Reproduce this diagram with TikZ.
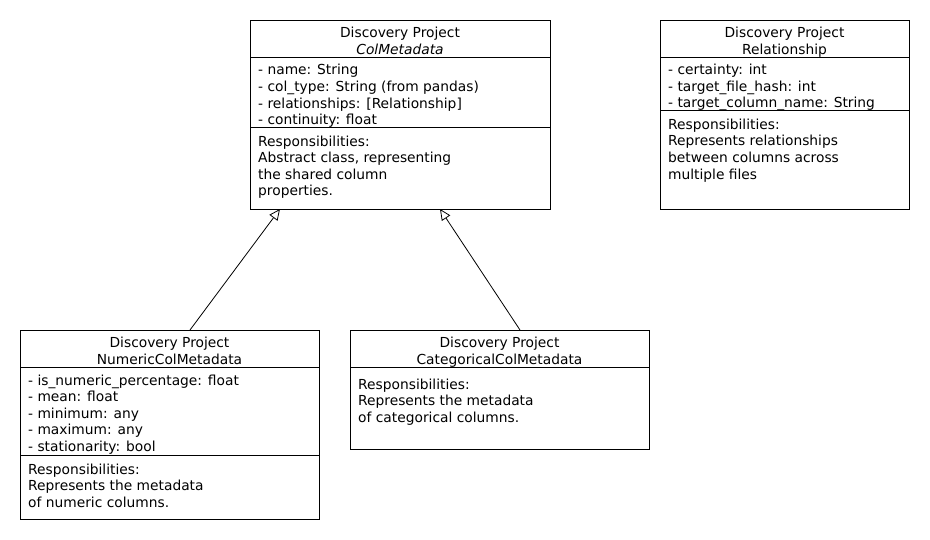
\documentclass[tikz,border=0pt]{standalone}
\usepackage{fontspec}
\setmainfont{DejaVu Sans}
\usetikzlibrary{arrows.meta}
\tikzset{
  box/.style={draw=black, line width=1pt, fill=white, rectangle, inner sep=0pt, anchor=north west},
  sep/.style={draw=black, line width=1pt},
  hd/.style={anchor=base, inner sep=0pt, font=\fontsize{13.8}{16}\selectfont},
  tx/.style={anchor=base west, inner sep=0pt, font=\fontsize{13.8}{16}\selectfont},
  inherit/.style={draw=black, line width=0.8pt, -{Triangle[open, length=11pt, width=10pt, fill=white]}},
}
\begin{document}
\begin{tikzpicture}[x=1pt,y=-1pt]
\useasboundingbox (0,0) rectangle (930,540);
% ColMetadata
\node[box, minimum width=300pt, minimum height=189pt] (col) at (250,20) {};
\draw[sep] (250,57.5) -- (550,57.5);
\draw[sep] (250,127.8) -- (550,127.8);
\node[hd] (colh1) at (400,37.9) {Discovery Project};
\node[hd] (colh2) at (400,54.2) {\itshape ColMetadata};
\node[tx] (cola1) at (258,75) {- name: String};
\node[tx] (cola2) at (258,91.6) {- col\_type: String (from pandas)};
\node[tx] (cola3) at (258,108.2) {- relationships: [Relationship]};
\node[tx] (cola4) at (258,124.6) {- continuity: float};
\node[tx] (colr1) at (258,146.2) {Responsibilities:};
\node[tx] (colr2) at (258,162.8) {Abstract class, representing};
\node[tx] (colr3) at (258,179.4) {the shared column};
\node[tx] (colr4) at (258,196) {properties.};
% Relationship
\node[box, minimum width=249pt, minimum height=189pt] (rel) at (660,20) {};
\draw[sep] (660,57.5) -- (909,57.5);
\draw[sep] (660,110.8) -- (909,110.8);
\node[hd] (relh1) at (784.5,37.9) {Discovery Project};
\node[hd] (relh2) at (784.5,54.2) {Relationship};
\node[tx] (rela1) at (668,75) {- certainty: int};
\node[tx] (rela2) at (668,91.6) {- target\_file\_hash: int};
\node[tx] (rela3) at (668,107.9) {- target\_column\_name: String};
\node[tx] (relr1) at (668,129.3) {Responsibilities:};
\node[tx] (relr2) at (668,145.9) {Represents relationships};
\node[tx] (relr3) at (668,162.5) {between columns across};
\node[tx] (relr4) at (668,179.1) {multiple files};
% NumericColMetadata
\node[box, minimum width=299pt, minimum height=189pt] (num) at (20,330) {};
\draw[sep] (20,367.6) -- (319,367.6);
\draw[sep] (20,455.8) -- (319,455.8);
\node[hd] (numh1) at (169.5,348) {Discovery Project};
\node[hd] (numh2) at (169.5,364.3) {NumericColMetadata};
\node[tx] (numa1) at (28,385) {- is\_numeric\_percentage: float};
\node[tx] (numa2) at (28,401.6) {- mean: float};
\node[tx] (numa3) at (28,418.2) {- minimum: any};
\node[tx] (numa4) at (28,434.8) {- maximum: any};
\node[tx] (numa5) at (28,451.3) {- stationarity: bool};
\node[tx] (numr1) at (28,474.3) {Responsibilities:};
\node[tx] (numr2) at (28,490.9) {Represents the metadata};
\node[tx] (numr3) at (28,507.5) {of numeric columns.};
% CategoricalColMetadata
\node[box, minimum width=299pt, minimum height=119pt] (cat) at (350,330) {};
\draw[sep] (350,367.6) -- (649,367.6);
\node[hd] (cath1) at (499.5,348) {Discovery Project};
\node[hd] (cath2) at (499.5,364.3) {CategoricalColMetadata};
\node[tx] (catr1) at (358,389.3) {Responsibilities:};
\node[tx] (catr2) at (358,405.9) {Represents the metadata};
\node[tx] (catr3) at (358,422.5) {of categorical columns.};
% inheritance
\coordinate (numtop) at (190,330);
\coordinate (coltipa) at (280,209);
\coordinate (cattop) at (520,330);
\coordinate (coltipb) at (440,209);
\draw[inherit] (numtop) -- (coltipa);
\draw[inherit] (cattop) -- (coltipb);
\end{tikzpicture}
\end{document}
